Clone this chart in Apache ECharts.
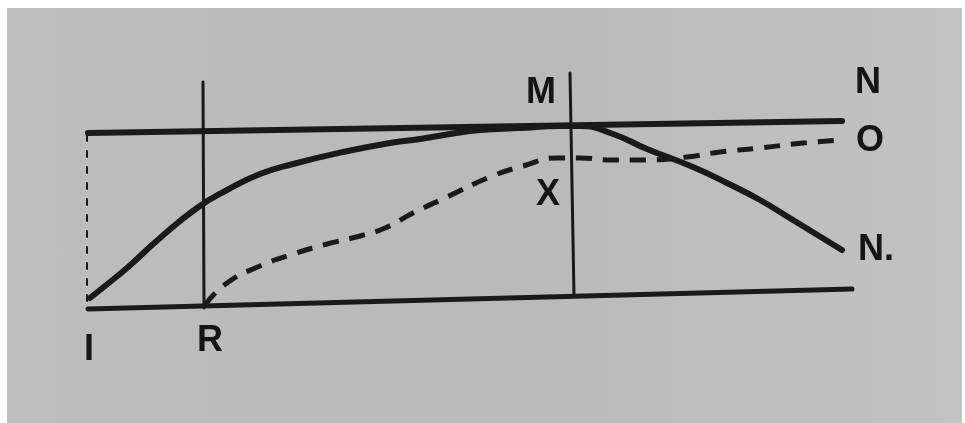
<!DOCTYPE html>
<html>
<head>
<meta charset="utf-8">
<script src="https://cdn.jsdelivr.net/npm/echarts@6/dist/echarts.min.js"></script>
<style>
  html, body { margin: 0; padding: 0; background: #ffffff; }
  #paper {
    position: absolute; left: 7px; top: 8px; width: 955px; height: 415px;
    background: linear-gradient(90deg, #bdbdbd 0%, #b9b9b9 50%, #c2c2c2 100%);
  }
  #chart { position: absolute; left: 0; top: 0; width: 965px; height: 423px; }
</style>
</head>
<body>
<div id="paper"></div>
<div id="chart"></div>
<script>
// points, in picture units (x right, y down)
const topLine = [[88, 133], [842, 121]]
const bottomLine = [[88, 309], [852, 289]]
const lineR = [[203, 82], [204, 308]]
const lineM = [[570, 73], [574, 296]]
const leftEdge = [[87, 135], [87, 309]]

// solid curve I -> M -> N.
const solidCurve = [
  [90, 298], [110, 282], [127, 268], [160, 238], [197, 208], [227, 190],
  [260, 174], [293, 164], [343, 152], [390, 143], [420, 139], [450, 134],
  [480, 130], [520, 128], [560, 126], [580, 126], [613, 134], [647, 149],
  [693, 167], [727, 183], [760, 200], [793, 220], [842, 250]
]

// dashed curve R -> X -> O
const dashedCurve = [
  [205, 305], [227, 283], [260, 266], [293, 254], [327, 244], [360, 236],
  [385, 228], [413, 213], [447, 197], [490, 177], [523, 166], [557, 158],
  [580, 158], [613, 160], [645, 160], [687, 157], [720, 152], [760, 148],
  [803, 143], [840, 140]
]

const labelNames = ['M', 'N', 'O', 'X', 'N.', 'I', 'R']
const labelPos = [[541, 93], [868, 83], [870, 141], [548, 195], [876, 250], [89, 350], [210, 341]]

const ink = '#1a1a1a'

const chart = echarts.init(document.getElementById('chart'))

const straight = (data, width, type) => ({
  type: 'line',
  data,
  showSymbol: false,
  silent: true,
  lineStyle: {color: ink, width, type: type || 'solid', cap: 'round'}
})

chart.setOption({
  animation: false,
  grid: {left: 0, right: 0, top: 0, bottom: 0},
  xAxis: {type: 'value', min: 0, max: 965, show: false},
  yAxis: {type: 'value', min: 0, max: 423, inverse: true, show: false},
  series: [
    straight(topLine, 6),
    straight(bottomLine, 5),
    straight(lineR, 3),
    straight(lineM, 3),
    straight(leftEdge, 2, [6, 10]),
    {
      type: 'line',
      data: solidCurve,
      smooth: 0.5,
      showSymbol: false,
      lineStyle: {color: ink, width: 6, cap: 'round'}
    },
    {
      type: 'line',
      data: dashedCurve,
      smooth: 0.5,
      showSymbol: false,
      lineStyle: {color: ink, width: 5, type: [16, 11]}
    },
    {
      type: 'scatter',
      data: labelPos.map((p, i) => [p[0], p[1], labelNames[i]]),
      symbolSize: 0,
      itemStyle: {color: ink, opacity: 1},
      label: {
        show: true,
        position: 'inside',
        formatter: p => p.value[2],
        fontFamily: 'Liberation Sans, Arial, sans-serif',
        fontWeight: 'bold',
        fontSize: 36,
        color: '#151515',
        opacity: 1,
        textBorderWidth: 0
      }
    }
  ]
})
</script>
</body>
</html>
